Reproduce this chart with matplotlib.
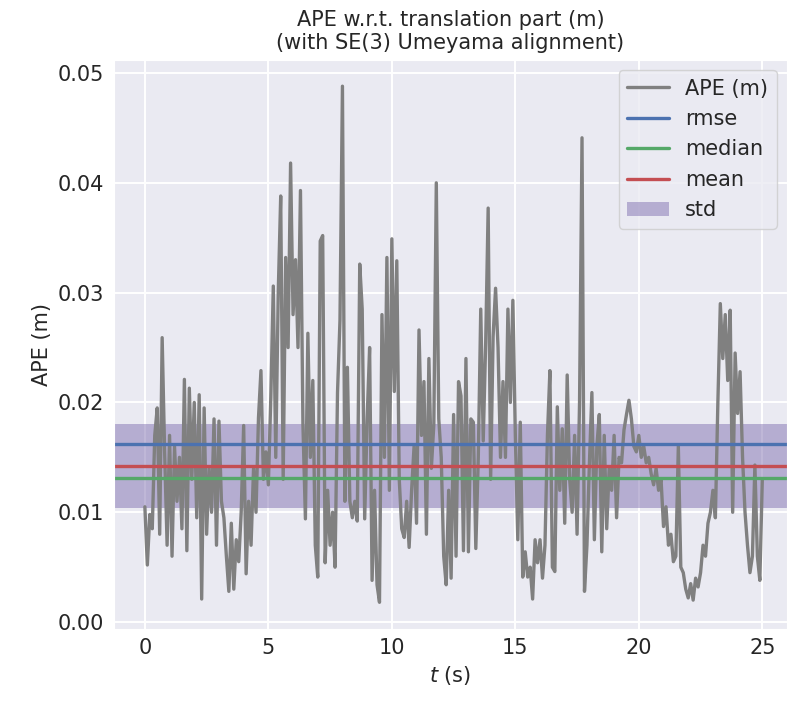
import numpy as np
import matplotlib
matplotlib.use('Agg')
import matplotlib.pyplot as plt
import seaborn as sns

# APE samples, one every 0.1 s from t = 0 to 25 s
ape_m = [
    0.0105, 0.0052, 0.0098, 0.0085, 0.0170, 0.0195, 0.0080, 0.0259, 0.0155, 0.0070,
    0.0170, 0.0060, 0.0160, 0.0110, 0.0150, 0.0085, 0.0221, 0.0065, 0.0213, 0.0130,
    0.0200, 0.0095, 0.0207, 0.0021, 0.0195, 0.0080, 0.0140, 0.0100, 0.0185, 0.0070,
    0.0183, 0.0110, 0.0095, 0.0060, 0.0028, 0.0090, 0.0030, 0.0075, 0.0055, 0.0100,
    0.0179, 0.0044, 0.0110, 0.0070, 0.0140, 0.0100, 0.0186, 0.0229, 0.0130, 0.0155,
    0.0125, 0.0205, 0.0306, 0.0150, 0.0300, 0.0388, 0.0130, 0.0332, 0.0250, 0.0418,
    0.0280, 0.0330, 0.0250, 0.0393, 0.0180, 0.0094, 0.0263, 0.0150, 0.0220, 0.0070,
    0.0041, 0.0347, 0.0352, 0.0054, 0.0120, 0.0070, 0.0100, 0.0050, 0.0209, 0.0275,
    0.0488, 0.0110, 0.0232, 0.0110, 0.0095, 0.0110, 0.0092, 0.0326, 0.0285, 0.0094,
    0.0185, 0.0250, 0.0038, 0.0120, 0.0034, 0.0018, 0.0280, 0.0150, 0.0332, 0.0120,
    0.0349, 0.0210, 0.0329, 0.0130, 0.0085, 0.0077, 0.0110, 0.0068, 0.0120, 0.0160,
    0.0090, 0.0266, 0.0170, 0.0219, 0.0080, 0.0240, 0.0140, 0.0180, 0.0400, 0.0185,
    0.0150, 0.0060, 0.0034, 0.0120, 0.0040, 0.0189, 0.0060, 0.0219, 0.0206, 0.0065,
    0.0240, 0.0064, 0.0185, 0.0182, 0.0067, 0.0150, 0.0285, 0.0165, 0.0255, 0.0377,
    0.0130, 0.0260, 0.0304, 0.0250, 0.0150, 0.0219, 0.0150, 0.0285, 0.0200, 0.0293,
    0.0170, 0.0075, 0.0182, 0.0041, 0.0064, 0.0041, 0.0050, 0.0021, 0.0075, 0.0054,
    0.0075, 0.0040, 0.0070, 0.0170, 0.0229, 0.0050, 0.0046, 0.0196, 0.0120, 0.0176,
    0.0090, 0.0225, 0.0130, 0.0100, 0.0170, 0.0080, 0.0200, 0.0441, 0.0028, 0.0070,
    0.0145, 0.0209, 0.0075, 0.0160, 0.0189, 0.0064, 0.0170, 0.0085, 0.0140, 0.0120,
    0.0170, 0.0095, 0.0150, 0.0145, 0.0175, 0.0189, 0.0202, 0.0185, 0.0160, 0.0155,
    0.0170, 0.0150, 0.0160, 0.0145, 0.0150, 0.0135, 0.0125, 0.0140, 0.0120, 0.0130,
    0.0087, 0.0105, 0.0070, 0.0080, 0.0055, 0.0060, 0.0160, 0.0050, 0.0045, 0.0030,
    0.0022, 0.0035, 0.0020, 0.0040, 0.0032, 0.0045, 0.0070, 0.0060, 0.0090, 0.0100,
    0.0120, 0.0095, 0.0199, 0.0290, 0.0240, 0.0280, 0.0220, 0.0284, 0.0100, 0.0245,
    0.0190, 0.0228, 0.0150, 0.0100, 0.0070, 0.0045, 0.0060, 0.0143, 0.0060, 0.0038,
    0.0130,
]
t_s = np.arange(len(ape_m)) * 0.1

# statistics as drawn in the reference
rmse = 0.0162
median = 0.0131
mean = 0.0142
std = 0.0038

sns.set_style('darkgrid')
plt.rcParams['font.family'] = ['DejaVu Sans']

fig = plt.figure(figsize=(7.87, 7.04), dpi=100)
ax = fig.add_axes([114 / 787, 0.107, 673 / 787, 0.808])

ax.plot(t_s, ape_m, color='gray', lw=2.4, label='APE (m)')
ax.axhline(rmse, color='#4c72b0', lw=2.4, label='rmse')
ax.axhline(median, color='#55a868', lw=2.4, label='median')
ax.axhline(mean, color='#c44e52', lw=2.4, label='mean')
ax.axhspan(mean - std, mean + std, color='#8172b2', alpha=0.5, lw=0, label='std')

ax.set_xlim(-1.25, 26.0)
ax.set_ylim(-0.0006, 0.0512)
ax.set_xticks([0, 5, 10, 15, 20, 25])
ax.set_yticks([0.0, 0.01, 0.02, 0.03, 0.04, 0.05])
ax.set_yticklabels(['0.00', '0.01', '0.02', '0.03', '0.04', '0.05'])
ax.tick_params(labelsize=15)
ax.grid(color='white', lw=1.4)

ax.set_xlabel('$t$ (s)', fontsize=15)
ax.set_ylabel('APE (m)', fontsize=15)
ax.set_title('APE w.r.t. translation part (m)\n(with SE(3) Umeyama alignment)',
             fontsize=15, pad=8)
ax.legend(loc='upper right', fontsize=15, frameon=True)

fig.savefig('out.png', dpi=100)
